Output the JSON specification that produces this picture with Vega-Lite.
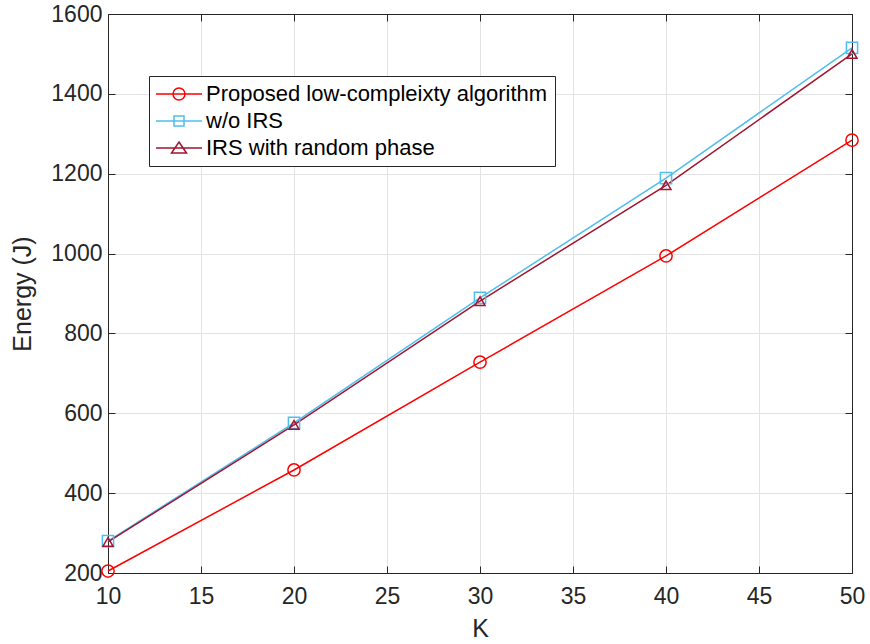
{
  "$schema": "https://vega.github.io/schema/vega-lite/v6.json",
  "width": 744,
  "height": 559,
  "autosize": "none",
  "padding": {"left": 108, "top": 14, "right": 18, "bottom": 71},
  "background": "white",
  "config": {
    "font": "Liberation Sans",
    "view": {"stroke": "#262626", "strokeWidth": 1},
    "axis": {
      "labelFontSize": 23,
      "titleFontSize": 25,
      "titleFontWeight": "normal",
      "labelColor": "#262626",
      "titleColor": "#262626",
      "gridColor": "#e3e3e3",
      "domainColor": "#262626",
      "tickColor": "#262626",
      "tickSize": -7,
      "labelFlush": false,
      "format": "d"
    },
    "legend": {
      "orient": "none",
      "legendX": 41,
      "legendY": 62,
      "strokeColor": "#262626",
      "fillColor": "white",
      "padding": 7,
      "labelFontSize": 22,
      "labelColor": "#000000",
      "labelLimit": 0,
      "symbolSize": 400,
      "symbolStrokeWidth": 1.5,
      "symbolOpacity": 1,
      "symbolOffset": 12,
      "labelOffset": 16,
      "rowPadding": 5,
      "cornerRadius": 0
    }
  },
  "data": {
    "values": [
      {"K": 10, "E": 205, "series": "Proposed low-compleixty algorithm"},
      {"K": 20, "E": 458, "series": "Proposed low-compleixty algorithm"},
      {"K": 30, "E": 728, "series": "Proposed low-compleixty algorithm"},
      {"K": 40, "E": 994, "series": "Proposed low-compleixty algorithm"},
      {"K": 50, "E": 1284, "series": "Proposed low-compleixty algorithm"},
      {"K": 10, "E": 280, "series": "w/o IRS"},
      {"K": 20, "E": 576, "series": "w/o IRS"},
      {"K": 30, "E": 889, "series": "w/o IRS"},
      {"K": 40, "E": 1189, "series": "w/o IRS"},
      {"K": 50, "E": 1515, "series": "w/o IRS"},
      {"K": 10, "E": 278, "series": "IRS with random phase"},
      {"K": 20, "E": 571, "series": "IRS with random phase"},
      {"K": 30, "E": 881, "series": "IRS with random phase"},
      {"K": 40, "E": 1171, "series": "IRS with random phase"},
      {"K": 50, "E": 1500, "series": "IRS with random phase"}
    ]
  },
  "resolve": {
    "scale": {"color": "independent", "shape": "independent"},
    "axis": {"x": "independent", "y": "independent"}
  },
  "layer": [
    {
      "mark": {"type": "line", "strokeWidth": 1.5},
      "encoding": {
        "x": {"field": "K", "type": "quantitative", "scale": {"domain": [10, 50]}, "axis": {"title": "K", "values": [10, 15, 20, 25, 30, 35, 40, 45, 50], "labelPadding": 19, "titlePadding": 8}},
        "y": {"field": "E", "type": "quantitative", "scale": {"domain": [200, 1600]}, "axis": {"title": "Energy (J)", "values": [200, 400, 600, 800, 1000, 1200, 1400, 1600], "labelPadding": 13, "titlePadding": 15}},
        "color": {"field": "series", "type": "nominal", "scale": {"domain": ["Proposed low-compleixty algorithm", "w/o IRS", "IRS with random phase"], "range": ["#FF0000", "#4DBEEE", "#A2142F"]}, "legend": null},
        "detail": {"field": "series"}
      }
    },
    {
      "mark": {"type": "point", "filled": false, "strokeWidth": 1.5, "opacity": 1},
      "encoding": {
        "x": {"field": "K", "type": "quantitative", "axis": {"orient": "top", "labels": false, "grid": false, "title": null, "values": [10, 15, 20, 25, 30, 35, 40, 45, 50]}},
        "y": {"field": "E", "type": "quantitative", "axis": {"orient": "right", "labels": false, "grid": false, "title": null, "values": [200, 400, 600, 800, 1000, 1200, 1400, 1600]}},
        "color": {"field": "series", "type": "nominal", "scale": {"domain": ["Proposed low-compleixty algorithm", "w/o IRS", "IRS with random phase"], "range": ["#FF0000", "#4DBEEE", "#A2142F"]}, "legend": null},
        "shape": {"field": "series", "type": "nominal", "scale": {"domain": ["Proposed low-compleixty algorithm", "w/o IRS", "IRS with random phase"], "range": ["circle", "square", "triangle-up"]}, "legend": null},
        "size": {"field": "series", "type": "nominal", "scale": {"domain": ["Proposed low-compleixty algorithm", "w/o IRS", "IRS with random phase"], "range": [150, 100, 210]}, "legend": null}
      }
    },
    {
      "transform": [{"filter": "false"}],
      "mark": {"type": "point", "filled": false, "strokeWidth": 1.5, "opacity": 1},
      "encoding": {
        "x": {"field": "K", "type": "quantitative", "axis": null},
        "y": {"field": "E", "type": "quantitative", "axis": null},
        "color": {"field": "series", "type": "nominal", "scale": {"domain": ["Proposed low-compleixty algorithm", "w/o IRS", "IRS with random phase"], "range": ["#FF0000", "#4DBEEE", "#A2142F"]}, "legend": {"title": null}},
        "shape": {"field": "series", "type": "nominal", "scale": {"domain": ["Proposed low-compleixty algorithm", "w/o IRS", "IRS with random phase"], "range": ["M-2.3,0L2.3,0M0.6,0A0.6,0.6,0,1,1,-0.6,0A0.6,0.6,0,1,1,0.6,0", "M-2.3,0L2.3,0M-0.5,-0.5L0.5,-0.5L0.5,0.5L-0.5,0.5Z", "M-2.3,0L2.3,0M0,-0.6L0.75,0.5L-0.75,0.5Z"]}, "legend": {"title": null}}
      }
    }
  ]
}
